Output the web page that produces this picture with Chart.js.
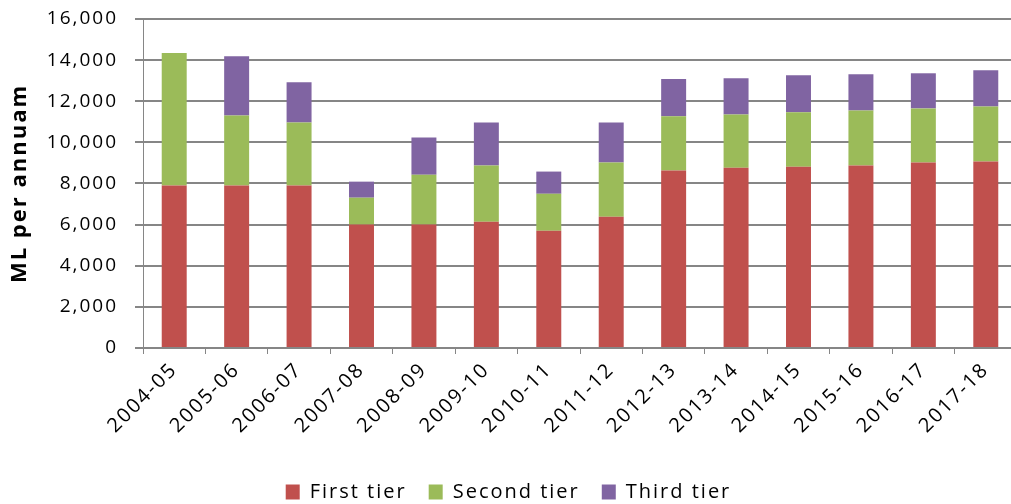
<!DOCTYPE html>
<html>
<head>
<meta charset="utf-8">
<script src="https://cdn.jsdelivr.net/npm/chart.js@4.4.1/dist/chart.umd.min.js"></script>
<style>
  html, body { margin: 0; padding: 0; background: #fff; overflow: hidden; }
  #wrap { width: 1018px; height: 504px; position: relative; }
</style>
</head>
<body>
<div id="wrap"><canvas id="chart"></canvas></div>
<script>
// Water entitlement by tier, ML per annum
const categories = ['2004-05','2005-06','2006-07','2007-08','2008-09','2009-10','2010-11',
                    '2011-12','2012-13','2013-14','2014-15','2015-16','2016-17','2017-18'];
const firstTier  = [7900, 7900, 7900, 6000, 6000, 6140, 5700, 6380, 8630, 8770, 8820, 8870, 9020, 9070];
const secondTier = [6450, 3410, 3070, 1310, 2430, 2730, 1800, 2640, 2640, 2590, 2640, 2680, 2630, 2680];
const thirdTier  = [0,    2880, 1950,  780, 1810, 2100, 1080, 1950, 1810, 1760, 1810, 1760, 1710, 1760];
const yTicks = [0, 2000, 4000, 6000, 8000, 10000, 12000, 14000, 16000];

const FONT = '"Open Sans", Lato, "Liberation Sans", sans-serif';
const GRID = '#868686';

// Slightly wider text spacing for all canvas text
const spacing = {
  id: 'spacing',
  beforeUpdate(chart) { chart.ctx.letterSpacing = '2px'; },
  beforeDraw(chart) { chart.ctx.letterSpacing = '2px'; }
};

new Chart(document.getElementById('chart'), {
  type: 'bar',
  plugins: [spacing],
  data: {
    labels: categories,
    datasets: [
      { label: 'First tier',  data: firstTier,  backgroundColor: '#C0504D' },
      { label: 'Second tier', data: secondTier, backgroundColor: '#9BBB59' },
      { label: 'Third tier',  data: thirdTier,  backgroundColor: '#8064A2' }
    ]
  },
  options: {
    responsive: true,
    maintainAspectRatio: false,
    animation: false,
    layout: { padding: { top: 0, right: 1, bottom: -8, left: 0 } },
    datasets: { bar: { barPercentage: 0.4, categoryPercentage: 1.0 } },
    plugins: {
      tooltip: { enabled: false },
      legend: {
        position: 'bottom',
        labels: {
          boxWidth: 14, boxHeight: 15, padding: 22,
          color: '#000',
          font: { family: FONT, size: 20 }
        }
      }
    },
    scales: {
      x: {
        stacked: true,
        grid: { display: true, drawOnChartArea: false, color: GRID, lineWidth: 1, tickLength: 6, offset: true },
        border: { display: true, color: GRID, width: 2 },
        ticks: {
          color: '#000', font: { family: FONT, size: 20 },
          maxRotation: 45, minRotation: 45, autoSkip: false, padding: 4
        },
        afterFit: (s) => { s.height = 112; }
      },
      y: {
        stacked: true,
        min: 0, max: 16000,
        afterBuildTicks: (s) => { s.ticks = yTicks.map(v => ({ value: v })); },
        grid: { color: GRID, lineWidth: 2, tickLength: 8, drawTicks: true },
        border: { display: true, color: GRID, width: 1 },
        ticks: {
          color: '#000', font: { family: FONT, size: 19, lineHeight: 0.21 }, padding: 17,
          callback: (v) => v.toLocaleString('en-US')
        },
        title: {
          display: true, text: 'ML per annuam', color: '#000',
          font: { family: FONT, size: 22, weight: 'bold' }, padding: { top: 7, bottom: 0 }
        },
        afterFit: (s) => { s.width = 143; }
      }
    }
  }
});
</script>
</body>
</html>
